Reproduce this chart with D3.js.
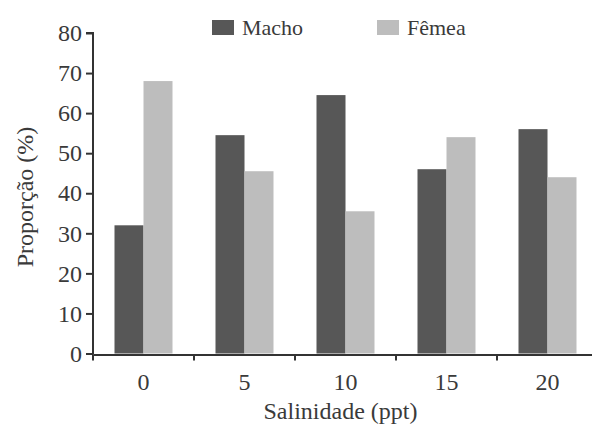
<!DOCTYPE html>
<html lang="pt">
<head>
    <meta charset="UTF-8">
    <title>Proporção por salinidade</title>
    <style>
        body {
            margin: 0;
            padding: 0;
            background-color: #fff;
        }
    </style>
</head>
<body>
    <div id="chart"></div>
    <script src="https://d3js.org/d3.v7.min.js"></script>
    <script>
        const categories = ["0", "5", "10", "15", "20"];
        const macho = [32, 54.5, 64.5, 46, 56];
        const femea = [68, 45.5, 35.5, 54, 44];
        const seriesNames = ["Macho", "Fêmea"];
        const seriesColors = ["#575757", "#bdbdbd"];
        const yTicks = [0, 10, 20, 30, 40, 50, 60, 70, 80];

        const width = 592;
        const height = 426;
        const margin = { top: 33, right: -6, bottom: 72, left: 93 };
        const font = "'Liberation Serif', 'Times New Roman', Times, serif";
        const textColor = "#3a3a3a";

        const svg = d3.select("#chart")
            .append("svg")
            .attr("width", width)
            .attr("height", height);

        const xScale = d3.scaleBand()
            .domain(categories)
            .range([margin.left, width - margin.right])
            .paddingInner(0)
            .paddingOuter(0);

        const xSub = d3.scaleBand()
            .domain(seriesNames)
            .range([0, 58]);

        const yScale = d3.scaleLinear()
            .domain([0, 80])
            .range([height - margin.bottom - 0.5, margin.top]);

        const rows = categories.map((c, i) => ({ cat: c, values: [macho[i], femea[i]] }));

        // bars
        const groups = svg.selectAll(".group")
            .data(rows)
            .enter()
            .append("g")
            .attr("class", "group")
            .attr("transform", d => `translate(${xScale(d.cat) + xScale.bandwidth() / 2 - 29},0)`);

        groups.selectAll("rect")
            .data(d => d.values.map((v, j) => ({ name: seriesNames[j], value: v, color: seriesColors[j] })))
            .enter()
            .append("rect")
            .attr("x", d => xSub(d.name))
            .attr("width", xSub.bandwidth())
            .attr("y", d => yScale(d.value))
            .attr("height", d => yScale(0) - yScale(d.value))
            .attr("fill", d => d.color);

        // y axis
        const yAxis = d3.axisLeft(yScale)
            .tickValues(yTicks)
            .tickSize(7)
            .tickPadding(4);

        const yG = svg.append("g")
            .attr("transform", `translate(${margin.left},0)`)
            .call(yAxis);

        yG.select(".domain").attr("d", `M-7,${yScale(80)}H0V${yScale(0) + 1}`);

        // x axis
        const xAxis = d3.axisBottom(xScale)
            .tickSize(0)
            .tickPadding(18);

        const xG = svg.append("g")
            .attr("transform", `translate(0,${yScale(0) + 1})`)
            .call(xAxis);

        xG.selectAll(".tick line").remove();

        // ticks between groups
        const bounds = categories.map(c => xScale(c)).concat([xScale.range()[1]]);
        xG.selectAll(".sep")
            .data(bounds)
            .enter()
            .append("line")
            .attr("class", "sep")
            .attr("x1", d => d)
            .attr("x2", d => d)
            .attr("y1", 0)
            .attr("y2", 6);

        svg.selectAll(".domain, .tick line, .sep")
            .attr("stroke", "#333")
            .attr("stroke-width", 2);

        svg.selectAll(".tick text")
            .attr("font-family", font)
            .attr("font-size", 24)
            .attr("fill", textColor);

        // axis titles
        svg.append("text")
            .attr("x", (margin.left + width) / 2 - 2)
            .attr("y", 419)
            .attr("text-anchor", "middle")
            .attr("font-family", font)
            .attr("font-size", 24)
            .attr("fill", textColor)
            .text("Salinidade (ppt)");

        svg.append("text")
            .attr("transform", `translate(33,197) rotate(-90)`)
            .attr("text-anchor", "middle")
            .attr("font-family", font)
            .attr("font-size", 24)
            .attr("fill", textColor)
            .text("Proporção (%)");

        // legend
        const legendX = [212, 377];
        const legend = svg.selectAll(".legend")
            .data(seriesNames)
            .enter()
            .append("g")
            .attr("class", "legend")
            .attr("transform", (d, i) => `translate(${legendX[i]},20)`);

        legend.append("rect")
            .attr("width", 22)
            .attr("height", 15)
            .attr("fill", (d, i) => seriesColors[i]);

        legend.append("text")
            .attr("x", 30)
            .attr("y", 15)
            .attr("font-family", font)
            .attr("font-size", 22)
            .attr("fill", textColor)
            .text(d => d);
    </script>
</body>
</html>
